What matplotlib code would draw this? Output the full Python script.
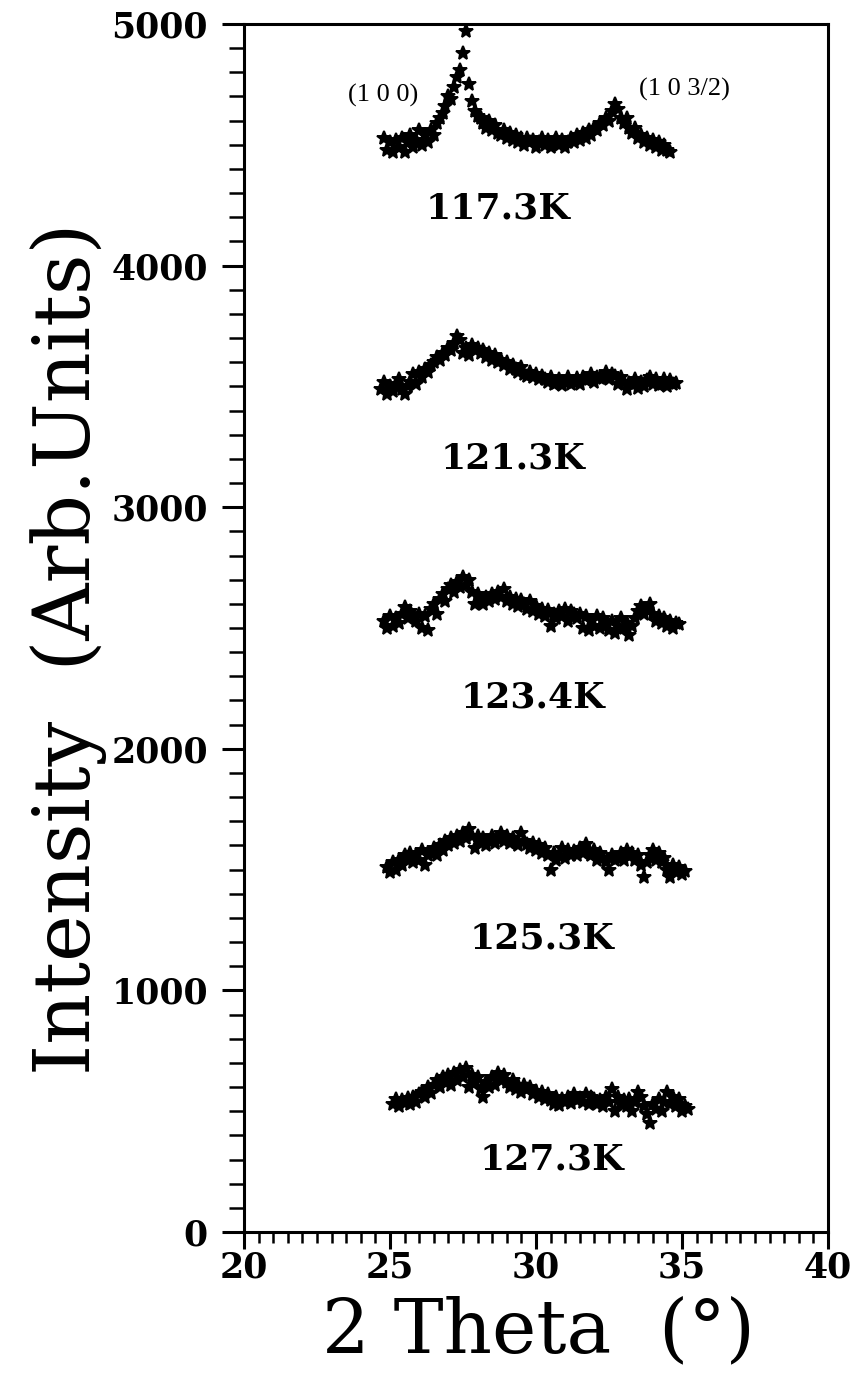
import numpy as np
import matplotlib
matplotlib.use("Agg")
import matplotlib.pyplot as plt
from matplotlib.ticker import MultipleLocator

# Diffraction scans (intensity vs 2-theta) at several temperatures.
# Each scan: start angle (deg), step 0.1 deg, measured intensities (offset stacked).
temperatures = ["117.3K", "121.3K", "123.4K", "125.3K", "127.3K"]
scan_start = [24.8, 24.7, 24.8, 24.9, 25.1]
scan_step = 0.1

i_117 = [4530, 4480, 4510, 4470, 4520, 4490, 4530, 4470, 4510, 4540,
         4490, 4520, 4560, 4500, 4540, 4510, 4560, 4540, 4590, 4610,
         4630, 4660, 4700, 4690, 4740, 4780, 4810, 4880, 4970, 4750,
         4680, 4640, 4620, 4610, 4590, 4570, 4600, 4560, 4580, 4550,
         4540, 4560, 4530, 4550, 4520, 4540, 4510, 4530, 4500, 4530,
         4510, 4520, 4490, 4510, 4530, 4500, 4520, 4490, 4510, 4530,
         4500, 4520, 4490, 4510, 4530, 4510, 4540, 4520, 4550, 4530,
         4560, 4540, 4570, 4560, 4590, 4580, 4610, 4600, 4640, 4670,
         4650, 4610, 4590, 4610, 4570, 4550, 4570, 4530, 4540, 4510,
         4530, 4500, 4520, 4490, 4510, 4480, 4500, 4480, 4470]

i_121 = [3490, 3520, 3470, 3500, 3480, 3510, 3530, 3490, 3470, 3500, 3520,
         3550, 3510, 3560, 3540, 3570,
         3560, 3590, 3600, 3620, 3610,
         3640, 3630, 3660, 3650, 3680,
         3710,
         3690, 3640, 3660, 3630,
         3670, 3650, 3660, 3640, 3650,
         3620, 3640, 3610, 3630, 3600,
         3610, 3590, 3600, 3570, 3590,
         3570, 3560, 3580, 3550, 3545,
         3560, 3540, 3550, 3530, 3545,
         3530, 3520, 3540, 3510, 3515,
         3530, 3505, 3520, 3540, 3510,
         3520, 3535, 3510, 3540, 3525,
         3530, 3550, 3520, 3540, 3535,
         3535, 3560, 3530, 3550, 3545,
         3510, 3540, 3520, 3490, 3515,
         3510, 3530, 3495, 3520, 3500,
         3525, 3540, 3510, 3530, 3505,
         3510, 3530, 3500, 3525, 3510, 3515]

i_123 = [2530, 2500, 2550, 2510, 2540, 2520,
         2560, 2585, 2540, 2570, 2550,
         2530, 2560, 2500, 2550, 2490,
         2580, 2600, 2560, 2620, 2640,
         2610, 2660, 2680, 2650, 2690,
         2670, 2710, 2680, 2700, 2650,
         2600, 2640, 2620, 2600, 2630,
         2610, 2640, 2620, 2650, 2630,
         2660, 2610, 2630, 2600, 2620,
         2590, 2615, 2600, 2580, 2610,
         2570, 2590, 2560, 2580, 2550,
         2575, 2510, 2560, 2540, 2570,
         2550, 2580, 2530, 2570, 2560,
         2540, 2560, 2500, 2550, 2490,
         2530, 2510, 2550, 2500, 2540,
         2520, 2490, 2530, 2480, 2510,
         2540, 2500, 2520, 2470, 2510,
         2540, 2570, 2590, 2560, 2580,
         2600, 2560, 2530, 2550, 2520,
         2540, 2510, 2530, 2500, 2520, 2515]

i_125 = [1510, 1490, 1530, 1500, 1540,
         1520, 1560, 1540, 1570, 1530,
         1560, 1540, 1580, 1520, 1560,
         1570, 1590, 1560, 1600, 1580,
         1620, 1600, 1630, 1610, 1640,
         1620, 1650, 1630, 1670, 1640,
         1590, 1640, 1610, 1630, 1600,
         1620, 1640, 1610, 1630, 1650,
         1620, 1640, 1610, 1630, 1615,
         1600, 1650, 1620, 1605, 1590,
         1610, 1580, 1600, 1570, 1590,
         1560, 1500, 1570, 1540, 1560,
         1590, 1550, 1580, 1560, 1575,
         1560, 1590, 1570, 1605, 1580,
         1560, 1580, 1540, 1570, 1550,
         1530, 1500, 1560, 1540, 1550,
         1570, 1540, 1580, 1555, 1570,
         1540, 1560, 1520, 1470, 1530,
         1560, 1580, 1540, 1570, 1530,
         1550, 1500, 1470, 1520, 1490,
         1510, 1480, 1495]

i_127 = [530, 550, 520, 545, 535,
         555, 530, 560, 540, 570,
         580, 560, 600, 575, 610,
         630, 600, 640, 620, 650,
         610, 660, 630, 670, 640,
         680, 600, 650, 620, 640,
         590, 560, 620, 600, 640,
         610, 660, 630, 650, 620,
         600, 630, 590, 610, 580,
         610, 590, 600, 570, 585,
         560, 580, 550, 570, 545,
         530, 560, 525, 550, 540,
         560, 535, 570, 545, 555,
         540, 570, 530, 560, 550,
         530, 545, 520, 560, 540,
         590, 500, 560, 530, 545,
         520, 550, 500, 540, 580,
         560, 520, 490, 450, 530,
         510, 550, 500, 540, 580,
         530, 560, 520, 550, 500,
         520, 510]

intensities = [i_117, i_121, i_123, i_125, i_127]

# Temperature label anchor points (2-theta, intensity)
label_x = [28.7, 29.2, 29.9, 30.2, 30.55]
label_y = [4237, 3203, 2212, 1216, 299]

# Reflection indices annotated on the top scan
peak_names = ["(1 0 0)", "(1 0 3/2)"]
peak_x = [24.75, 35.1]
peak_y = [4705, 4730]

x_ticks = [20, 25, 30, 35, 40]
y_ticks = [0, 1000, 2000, 3000, 4000, 5000]

fig = plt.figure(figsize=(8.66, 13.74), dpi=100)
ax = fig.add_axes([244 / 866, 1 - 1232 / 1374, 584 / 866, 1208 / 1374])

for start, vals in zip(scan_start, intensities):
    theta = start + scan_step * np.arange(len(vals))
    ax.plot(theta, vals, linestyle="none", marker="*", markersize=10.5,
            color="black", markeredgewidth=1.4)

for name, x, y in zip(temperatures, label_x, label_y):
    ax.text(x, y, name, ha="center", va="center", family="DejaVu Serif",
            fontweight="bold", fontsize=26)

for name, x, y in zip(peak_names, peak_x, peak_y):
    ax.text(x, y, name, ha="center", va="center", family="Liberation Serif",
            fontsize=19)

ax.set_xlim(20, 40)
ax.set_ylim(0, 5000)
ax.set_xticks(x_ticks)
ax.set_yticks(y_ticks)
ax.xaxis.set_minor_locator(MultipleLocator(0.5))
ax.yaxis.set_minor_locator(MultipleLocator(100))

tick_font = {"family": "DejaVu Serif", "weight": "bold", "size": 25}
ax.set_xticklabels([str(v) for v in x_ticks], fontdict=tick_font)
ax.set_yticklabels([str(v) for v in y_ticks], fontdict=tick_font)

ax.tick_params(axis="both", which="major", direction="out", width=2.2,
               color="black", top=False, right=False)
ax.tick_params(axis="x", which="major", length=12, pad=1)
ax.tick_params(axis="x", which="minor", direction="out", length=8, width=1.8,
               top=False)
ax.tick_params(axis="y", which="major", length=16, pad=10)
ax.tick_params(axis="y", which="minor", direction="out", length=11, width=1.8,
               right=False)

for side in ax.spines.values():
    side.set_linewidth(2.2)
    side.set_color("black")

ax.set_xlabel("2 Theta  (\u00b0)", family="DejaVu Serif", fontsize=54)
ax.set_ylabel("Intensity  (Arb.Units)", family="DejaVu Serif", fontsize=57)
ax.xaxis.set_label_coords(0.505, -0.052)
ax.yaxis.set_label_coords(-0.235, 0.483)

fig.savefig("out.png", dpi=100, facecolor="white")
